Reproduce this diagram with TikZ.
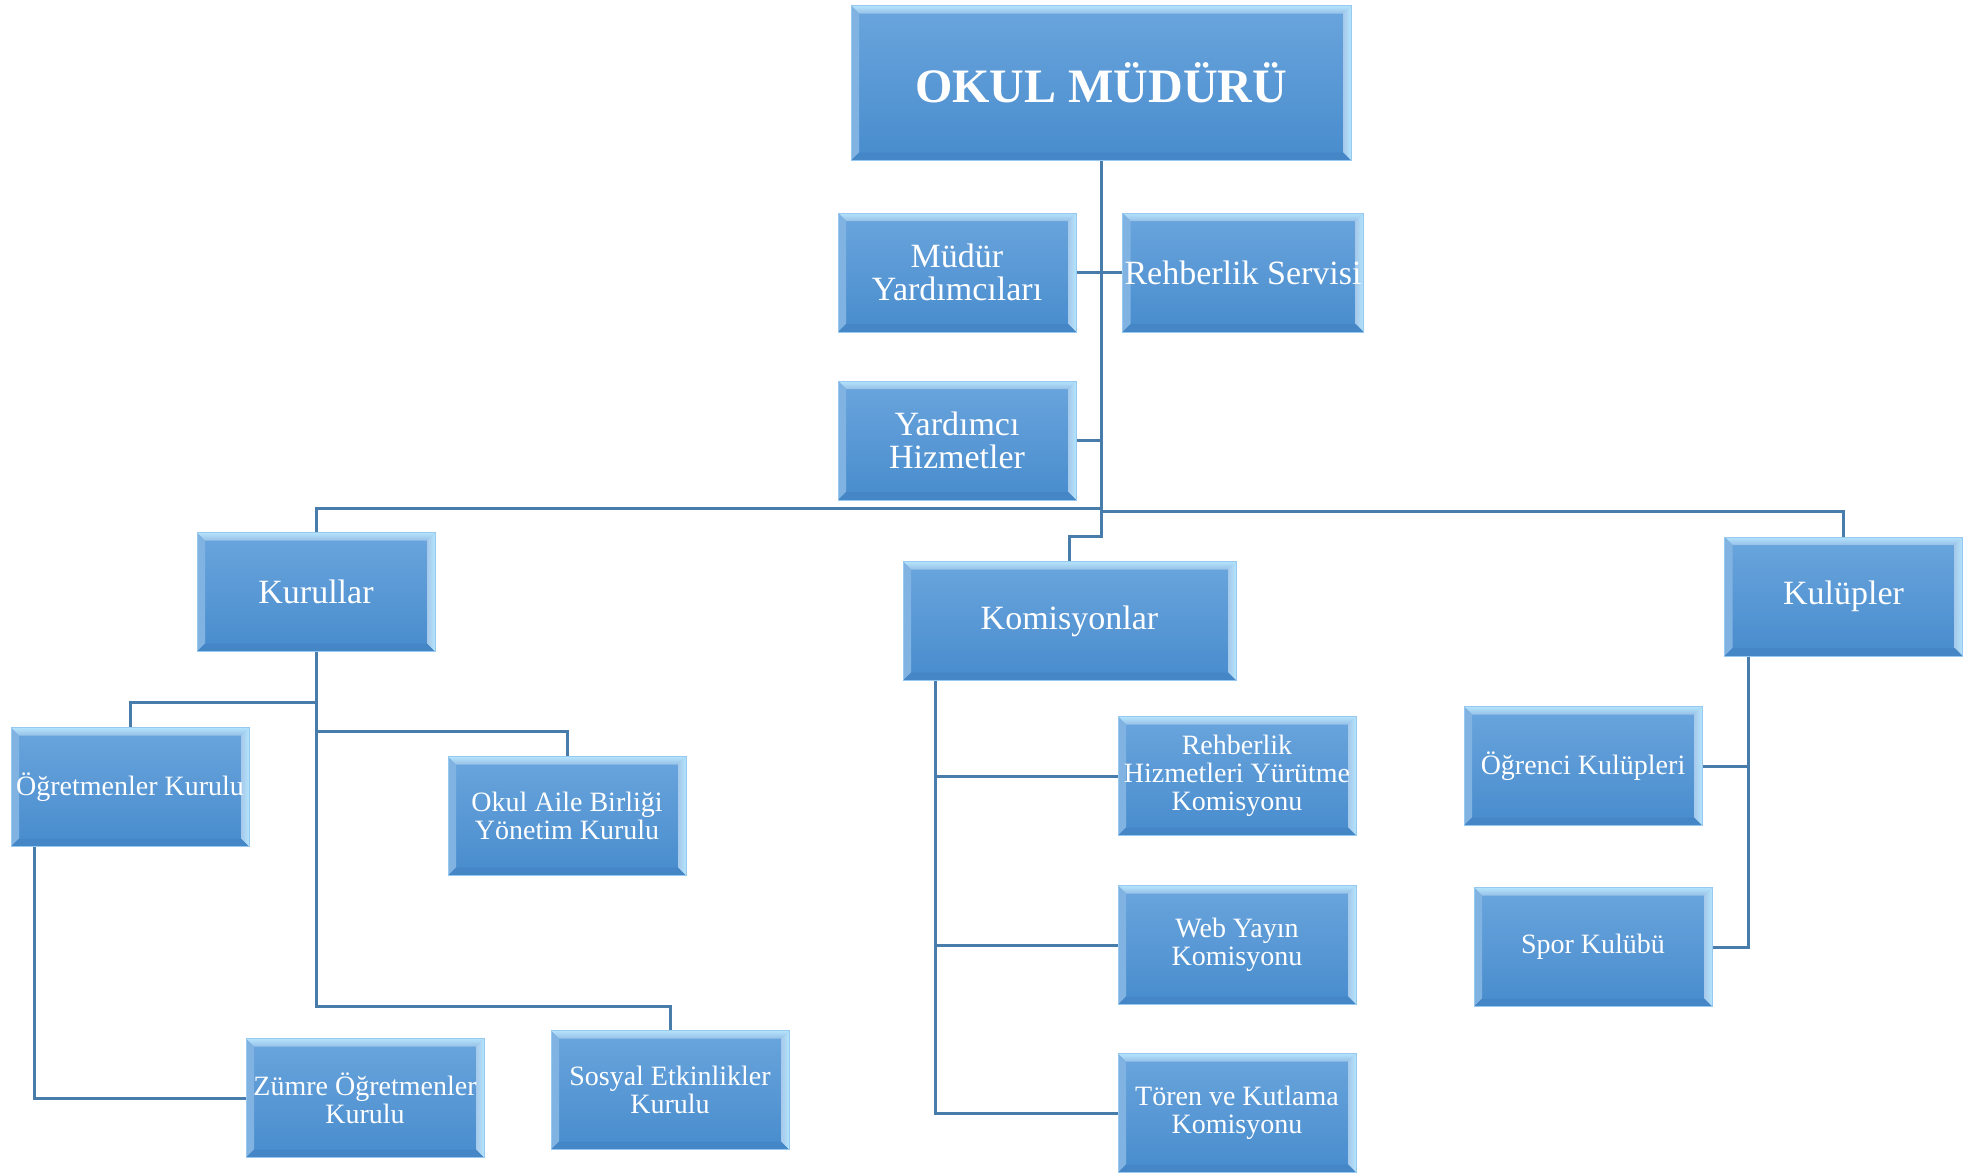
\documentclass[tikz,border=0pt]{standalone}
\usepackage{fontspec}
\setmainfont{Liberation Serif}
\usetikzlibrary{positioning}
\definecolor{boxtop}{RGB}{106,165,221}
\definecolor{boxbot}{RGB}{72,140,205}
\definecolor{boxedge}{RGB}{150,200,240}
\definecolor{bevlight}{RGB}{180,228,252}
\definecolor{bevdark}{RGB}{68,134,198}
\definecolor{linkcol}{RGB}{72,124,170}
\tikzset{
  orgbox/.style={rectangle, draw=boxedge, line width=0.5pt,
    top color=boxtop, bottom color=boxbot, text=white, align=center,
    minimum width=119pt, minimum height=59.5pt, inner sep=1pt,
    font=\fontsize{14}{14}\selectfont,
    path picture={
      \path (path picture bounding box.north west) coordinate (nw)
            (path picture bounding box.north east) coordinate (ne)
            (path picture bounding box.south west) coordinate (sw)
            (path picture bounding box.south east) coordinate (se);
      \shade[top color=bevlight, bottom color=boxtop!70!white]
        (nw) -- (ne) -- ([shift={(-4pt,-4pt)}]ne) -- ([shift={(4pt,-4pt)}]nw) -- cycle;
      \fill[boxtop!85!white]
        (nw) -- ([shift={(4pt,-4pt)}]nw) -- ([shift={(4pt,4pt)}]sw) -- (sw) -- cycle;
      \shade[left color=boxtop!60!white, right color=bevlight]
        (ne) -- (se) -- ([shift={(-4pt,4pt)}]se) -- ([shift={(-4pt,-4pt)}]ne) -- cycle;
      \fill[bevdark]
        (sw) -- ([shift={(4pt,4pt)}]sw) -- ([shift={(-4pt,4pt)}]se) -- (se) -- cycle;
    }},
  bigbox/.style={orgbox, font=\fontsize{17}{16.5}\selectfont},
  link/.style={draw=linkcol, line width=1.5pt}
}

\begin{document}
\begin{tikzpicture}[x=0.5pt, y=-0.5pt]
  \useasboundingbox (0,0) rectangle (1975,1173);
  % top of the tree
  \node[bigbox, minimum width=250pt, minimum height=77.5pt,
        font=\fontsize{24}{24}\bfseries] (okul) at (1101,83) {OKUL MÜDÜRÜ};
  \node[bigbox] (mudyrd) at (957,272.5) {Müdür\\Yardımcıları};
  \node[bigbox] (rehser) at (1243,272.5) {Rehberlik Servisi};
  \node[bigbox] (yrdhiz) at (957,440.5) {Yardımcı\\Hizmetler};
  % second level
  \node[bigbox] (kurullar) at (316,592) {Kurullar};
  \node[bigbox, minimum width=166.5pt] (komisyon) at (1069.5,621) {Komisyonlar};
  \node[bigbox] (kulupler) at (1843.5,596.5) {Kulüpler};
  % kurullar
  \node[orgbox] (ogretmen) at (130,787) {Öğretmenler Kurulu};
  \node[orgbox] (okulaile) at (567,816) {Okul Aile Birliği\\Yönetim Kurulu};
  \node[orgbox] (zumre) at (365,1098) {Zümre Öğretmenler\\Kurulu};
  \node[orgbox] (sosyal) at (670,1090) {Sosyal Etkinlikler\\Kurulu};
  % komisyonlar
  \node[orgbox] (rhyk) at (1237,776) {Rehberlik\\Hizmetleri Yürütme\\Komisyonu};
  \node[orgbox] (web) at (1237,945) {Web Yayın\\Komisyonu};
  \node[orgbox] (toren) at (1237,1113) {Tören ve Kutlama\\Komisyonu};
  % kulupler
  \node[orgbox] (ogrenci) at (1583,766) {Öğrenci Kulüpleri};
  \node[orgbox] (spor) at (1593,947) {Spor Kulübü};

  \draw[link] (okul.south) |- (mudyrd.east);
  \draw[link] (okul.south) |- (rehser.west);
  \draw[link] (okul.south) |- (yrdhiz.east);
  \draw[link] (okul.south) |- ([yshift=12pt]kurullar.north) -- (kurullar.north);
  \draw[link] (okul.south) |- ([yshift=12.5pt]kulupler.north) -- (kulupler.north);
  \draw[link] (okul.south) |- ([yshift=12.5pt]komisyon.north) -- (komisyon.north);

  \draw[link] (kurullar.south) |- ([yshift=12.5pt]ogretmen.north) -- (ogretmen.north);
  \draw[link] (kurullar.south) |- ([yshift=12.5pt]okulaile.north) -- (okulaile.north);
  \draw[link] (kurullar.south) |- ([yshift=12pt]sosyal.north) -- (sosyal.north);
  \draw[link] ([xshift=12pt]ogretmen.south west) |- (zumre.west);

  \draw[link] ([xshift=16.5pt]komisyon.south west) |- (rhyk.west);
  \draw[link] ([xshift=16.5pt]komisyon.south west) |- (web.west);
  \draw[link] ([xshift=16.5pt]komisyon.south west) |- (toren.west);

  \draw[link] ([xshift=12pt]kulupler.south west) |- (ogrenci.east);
  \draw[link] ([xshift=12pt]kulupler.south west) |- (spor.east);
\end{tikzpicture}
\end{document}
